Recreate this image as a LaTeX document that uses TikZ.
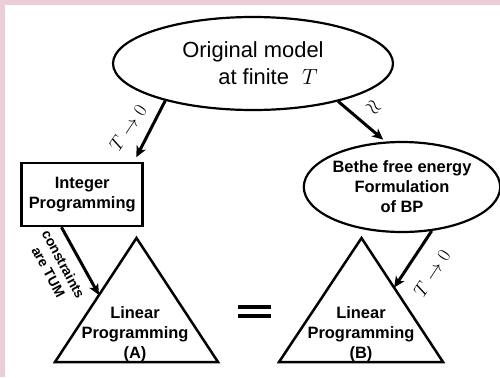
\RequirePackage{fix-cm}
\documentclass[tikz,border=0pt]{standalone}
\usepackage{fontspec}
\setmainfont{Liberation Sans}
\usetikzlibrary{shapes.geometric,arrows.meta,calc}
\definecolor{pinkbg}{RGB}{236,206,218}
\begin{document}
\begin{tikzpicture}[x=1bp,y=-1bp,
  ell/.style={ellipse, draw, line width=2.2bp, inner sep=0pt},
  boxnode/.style={rectangle, draw, line width=2.5bp, inner sep=0pt},
  tri/.style={draw, line width=2.5bp},
  arr/.style={line width=3bp, -{Stealth[length=11bp,width=10bp,inset=3bp]}},
  lbl/.style={font=\fontsize{16.5}{20}\selectfont\bfseries, align=center},
  mlbl/.style={font=\fontsize{19}{21}\selectfont}]
\useasboundingbox (0,0) rectangle (500,377);
\fill[pinkbg] (0,0) rectangle (500,377);
\fill[white] (5,5) rectangle (500,377);

% nodes
\node[ell, minimum width=280bp, minimum height=93bp, font=\fontsize{22}{27}\selectfont, align=center] (orig) at (253,63.5)
  {Original model\\\hspace*{30bp}at finite\hspace{0.6em}$T$};
\node[boxnode, minimum width=121bp, minimum height=63bp, lbl] (ip) at (82.2,194.5) {Integer\\Programming};
\node[ell, minimum width=190bp, minimum height=90bp, lbl] (bethe) at (402,187) {Bethe free energy\\Formulation\\of BP};

% triangles
\coordinate (Atop) at (136.5,238);
\coordinate (Aleft) at (55,362);
\coordinate (Aright) at (218,362);
\draw[tri] (Atop) -- (Aleft) -- (Aright) -- cycle;
\node[lbl] (lpA) at (135,334) {Linear\\Programming\\(A)};

\coordinate (Btop) at (361.5,238);
\coordinate (Bleft) at (279,362);
\coordinate (Bright) at (443,362);
\draw[tri] (Btop) -- (Bleft) -- (Bright) -- cycle;
\node[lbl] (lpB) at (361,334) {Linear\\Programming\\(B)};

% connectors
\draw[arr, shorten >=5bp] (orig.203.6) -- ($(ip.north east)+(-10,0)$);
\node[mlbl, rotate=56] (l1) at (128,128) {$T\rightarrow 0$};

\draw[arr, shorten >=3bp] (orig.336.2) -- (bethe.110.7);
\node[font=\fontsize{21}{22}\selectfont, rotate=-40] (l2) at (373,108) {$\approx$};

\draw[arr] ($(ip.south west)+(41,0)$) -- ($(Atop)!0.46!(Aleft)$);
\node[font=\fontsize{14}{17}\selectfont\bfseries, align=center, rotate=-62] (l3) at (56,268) {constraints\\are TUM};

\draw[arr] (bethe.304.6) -- ($(Btop)!0.4!(Bright)$);
\node[mlbl, rotate=57] (l4) at (432,273) {$T\rightarrow 0$};

% equals sign
\draw[line width=3.5bp] (238,307) -- (271,307) (238,316) -- (271,316);
\end{tikzpicture}
\end{document}
